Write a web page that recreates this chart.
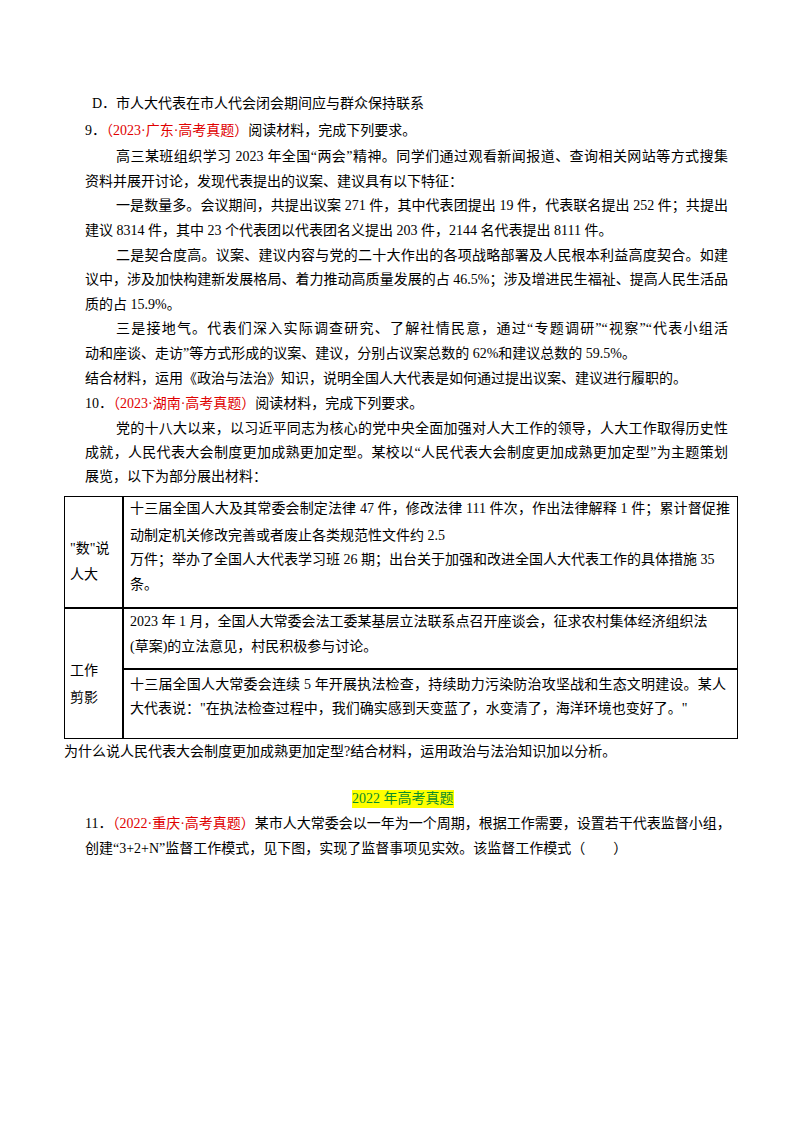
<!DOCTYPE html>
<html><head><meta charset="utf-8">
<script src="https://cdn.jsdelivr.net/npm/chart.js"></script>
<style>
body{margin:0;width:800px;height:1132px;background:#fff;position:relative;font-family:"Liberation Serif","Noto Sans CJK SC",serif;color:#000;font-size:14px}
.l{position:absolute;white-space:nowrap;line-height:18px}
.r{color:#e00000}
.j{width:643px;text-align-last:justify;text-align:justify}
.tb{position:absolute;border:1.5px solid #000}
.h{position:absolute;background:#000}
</style></head><body>
<div class="l" style="left:92px;top:95px">D．市人大代表在市人代会闭会期间应与群众保持联系</div>
<div class="l" style="left:85px;top:122px">9．<span class="r">（2023·广东·高考真题）</span>阅读材料，完成下列要求。</div>
<div class="l j" style="left:116px;top:148px;width:612px">高三某班组织学习 2023 年全国“两会”精神。同学们通过观看新闻报道、查询相关网站等方式搜集</div>
<div class="l" style="left:85px;top:173px">资料并展开讨论，发现代表提出的议案、建议具有以下特征：</div>
<div class="l j" style="left:116px;top:197px;width:612px">一是数量多。会议期间，共提出议案 271 件，其中代表团提出 19 件，代表联名提出 252 件；共提出</div>
<div class="l" style="left:85px;top:222px">建议 8314 件，其中 23 个代表团以代表团名义提出 203 件，2144 名代表提出 8111 件。</div>
<div class="l j" style="left:116px;top:247px;width:612px">二是契合度高。议案、建议内容与党的二十大作出的各项战略部署及人民根本利益高度契合。如建</div>
<div class="l j" style="left:85px;top:271px">议中，涉及加快构建新发展格局、着力推动高质量发展的占 46.5%；涉及增进民生福祉、提高人民生活品</div>
<div class="l" style="left:85px;top:296px">质的占 15.9%。</div>
<div class="l j" style="left:116px;top:320px;width:612px">三是接地气。代表们深入实际调查研究、了解社情民意，通过“专题调研”“视察”“代表小组活</div>
<div class="l" style="left:85px;top:345px">动和座谈、走访”等方式形成的议案、建议，分别占议案总数的 62%和建议总数的 59.5%。</div>
<div class="l" style="left:85px;top:370px">结合材料，运用《政治与法治》知识，说明全国人大代表是如何通过提出议案、建议进行履职的。</div>
<div class="l" style="left:85px;top:395px">10．<span class="r">（2023·湖南·高考真题）</span>阅读材料，完成下列要求。</div>
<div class="l j" style="left:116px;top:420px;width:612px">党的十八大以来，以习近平同志为核心的党中央全面加强对人大工作的领导，人大工作取得历史性</div>
<div class="l j" style="left:85px;top:444px">成就，人民代表大会制度更加成熟更加定型。某校以“人民代表大会制度更加成熟更加定型”为主题策划</div>
<div class="l" style="left:85px;top:468px">展览，以下为部分展出材料：</div>
<div class="tb" style="left:64px;top:496px;width:672px;height:241px"></div>
<div class="h" style="left:122px;top:496px;width:1.5px;height:243px"></div>
<div class="h" style="left:64px;top:607px;width:674px;height:1.5px"></div>
<div class="h" style="left:122px;top:668px;width:616px;height:1.5px"></div>
<div class="l" style="left:70px;top:540px">"数"说</div>
<div class="l" style="left:70px;top:566px">人大</div>
<div class="l" style="left:70px;top:662px">工作</div>
<div class="l" style="left:70px;top:689px">剪影</div>
<div class="l j" style="left:130px;top:500px;width:600px">十三届全国人大及其常委会制定法律 47 件，修改法律 111 件次，作出法律解释 1 件；累计督促推</div>
<div class="l" style="left:130px;top:527px">动制定机关修改完善或者废止各类规范性文件约 2.5</div>
<div class="l" style="left:130px;top:551px">万件；举办了全国人大代表学习班 26 期；出台关于加强和改进全国人大代表工作的具体措施 35</div>
<div class="l" style="left:130px;top:576px">条。</div>
<div class="l" style="left:130px;top:613px">2023 年 1 月，全国人大常委会法工委某基层立法联系点召开座谈会，征求农村集体经济组织法</div>
<div class="l" style="left:130px;top:638px">(草案)的立法意见，村民积极参与讨论。</div>
<div class="l j" style="left:130px;top:676px;width:596px">十三届全国人大常委会连续 5 年开展执法检查，持续助力污染防治攻坚战和生态文明建设。某人</div>
<div class="l" style="left:130px;top:700px">大代表说："在执法检查过程中，我们确实感到天变蓝了，水变清了，海洋环境也变好了。"</div>
<div class="l" style="left:64px;top:743px">为什么说人民代表大会制度更加成熟更加定型?结合材料，运用政治与法治知识加以分析。</div>
<div class="l" style="left:352px;top:790px;background:#ffff00;color:#0a8c2a">2022 年高考真题</div>
<div class="l j" style="left:85px;top:815px;width:643px">11．<span class="r">（2022·重庆·高考真题）</span>某市人大常委会以一年为一个周期，根据工作需要，设置若干代表监督小组，</div>
<div class="l" style="left:85px;top:840px">创建“3+2+N”监督工作模式，见下图，实现了监督事项见实效。该监督工作模式（　　）</div>
</body></html>
